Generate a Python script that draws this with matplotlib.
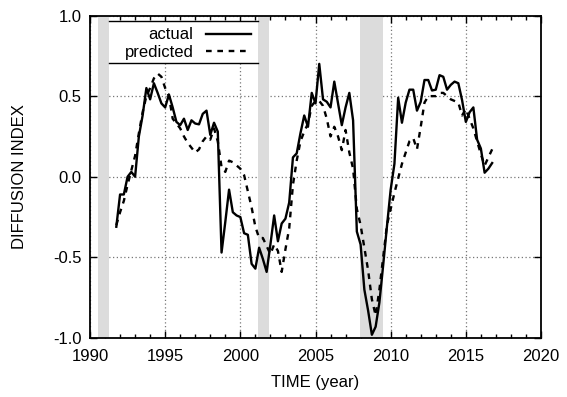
import numpy as np
import matplotlib
matplotlib.use("Agg")
import matplotlib.pyplot as plt
from matplotlib.ticker import MultipleLocator
from matplotlib.patches import Rectangle

plt.rcParams['font.family'] = ['Liberation Sans', 'DejaVu Sans']
plt.rcParams['axes.unicode_minus'] = False

start_year = 1991.75  # first quarter shown
actual = [
    -0.31, -0.11, -0.11, 0.00, 0.03, 0.00, 0.25, 0.38, 0.55, 0.48,
    0.58, 0.52, 0.455, 0.43, 0.51, 0.43, 0.34, 0.32, 0.36, 0.29,
    0.35, 0.33, 0.325, 0.39, 0.41, 0.26, 0.335, 0.28, -0.47, -0.28,
    -0.08, -0.22, -0.24, -0.25, -0.35, -0.36, -0.54, -0.57, -0.44, -0.51,
    -0.59, -0.42, -0.24, -0.40, -0.29, -0.26, -0.16, 0.12, 0.145, 0.27,
    0.38, 0.31, 0.52, 0.455, 0.70, 0.48, 0.465, 0.43, 0.59, 0.455,
    0.32, 0.43, 0.52, 0.35, -0.34, -0.42, -0.70, -0.83, -0.98, -0.93,
    -0.78, -0.55, -0.31, -0.08, 0.08, 0.49, 0.335, 0.46, 0.54, 0.54,
    0.41, 0.465, 0.60, 0.60, 0.535, 0.54, 0.63, 0.62, 0.54, 0.57,
    0.59, 0.58, 0.475, 0.34, 0.40, 0.43, 0.23, 0.175, 0.025, 0.05,
    0.085,
]
predicted = [
    -0.30, -0.22, -0.15, -0.05, 0.04, 0.13, 0.27, 0.40, 0.50, 0.55,
    0.61, 0.64, 0.62, 0.55, 0.50, 0.36, 0.33, 0.30, 0.25, 0.21,
    0.18, 0.15, 0.17, 0.22, 0.25, 0.23, 0.30, 0.22, 0.06, 0.03,
    0.10, 0.09, 0.07, 0.05, 0.01, -0.09, -0.19, -0.31, -0.38, -0.38,
    -0.43, -0.48, -0.42, -0.46, -0.59, -0.45, -0.32, -0.05, 0.10, 0.22,
    0.28, 0.33, 0.44, 0.47, 0.47, 0.44, 0.36, 0.25, 0.31, 0.25,
    0.165, 0.29, 0.15, 0.05, -0.20, -0.30, -0.44, -0.58, -0.76, -0.86,
    -0.70, -0.50, -0.30, -0.20, -0.10, -0.01, 0.08, 0.15, 0.22, 0.24,
    0.17, 0.31, 0.46, 0.50, 0.50, 0.50, 0.52, 0.52, 0.50, 0.48,
    0.47, 0.46, 0.38, 0.42, 0.36, 0.30, 0.22, 0.14, 0.07, 0.12,
    0.17,
]
recessions = [(1990.55, 1991.25), (2001.17, 2001.88), (2007.95, 2009.47)]
x_ticks = [1990, 1995, 2000, 2005, 2010, 2015, 2020]
y_ticks = [-1.0, -0.5, 0.0, 0.5, 1.0]

t = start_year + 0.25 * np.arange(len(actual))

fig = plt.figure(figsize=(5.67, 3.97), dpi=100)
ax = fig.add_axes([90/567, 59/397, 451/567, 322.5/397])

ax.set_xlim(1990, 2020)
ax.set_ylim(-1, 1)
ax.set_xticks(x_ticks)
ax.set_yticks(y_ticks)
ax.set_yticklabels([f"{v:.1f}" for v in y_ticks])
ax.xaxis.set_minor_locator(MultipleLocator(1))
ax.grid(True, which='major', linestyle=(0, (1, 2)), color='#777777', linewidth=0.9, zorder=0)
ax.set_axisbelow(True)

for a, b in recessions:
    ax.axvspan(a, b, color='#dcdcdc', lw=0, zorder=1)

ax.plot(t, actual, color='black', lw=1.7, label='actual', zorder=3)
ax.plot(t, predicted, color='black', lw=1.7, ls=(0, (2.4, 2.4)), label='predicted', zorder=3)

ax.tick_params(which='both', direction='in', top=True, right=True, labelsize=12)
ax.tick_params(axis='y', pad=6)
ax.tick_params(axis='x', pad=8)
ax.tick_params(which='major', length=5, width=1)
ax.tick_params(which='minor', length=3, width=1)
for s in ax.spines.values():
    s.set_linewidth(1.3)

ax.set_xlabel('TIME (year)', fontsize=12, labelpad=8)
ax.set_ylabel('DIFFUSION INDEX', fontsize=12, labelpad=19)

# legend box (white, with top and bottom rules) between first two recession bands
box = Rectangle((0.042, 0.853), 0.3305, 0.130, transform=ax.transAxes,
                facecolor='white', edgecolor='none', zorder=4)
ax.add_patch(box)
for yy in (0.853, 0.983):
    ax.plot([0.042, 0.3725], [yy, yy], transform=ax.transAxes, color='black', lw=1.0, zorder=4.5)

leg = ax.legend(loc='upper right', bbox_to_anchor=(0.357, 0.963),
                markerfirst=False, fontsize=12, frameon=False,
                handlelength=2.7, handletextpad=0.75,
                borderaxespad=0, labelspacing=0.14, borderpad=0)
leg.set_zorder(5)

fig.savefig('out.png', dpi=100)
